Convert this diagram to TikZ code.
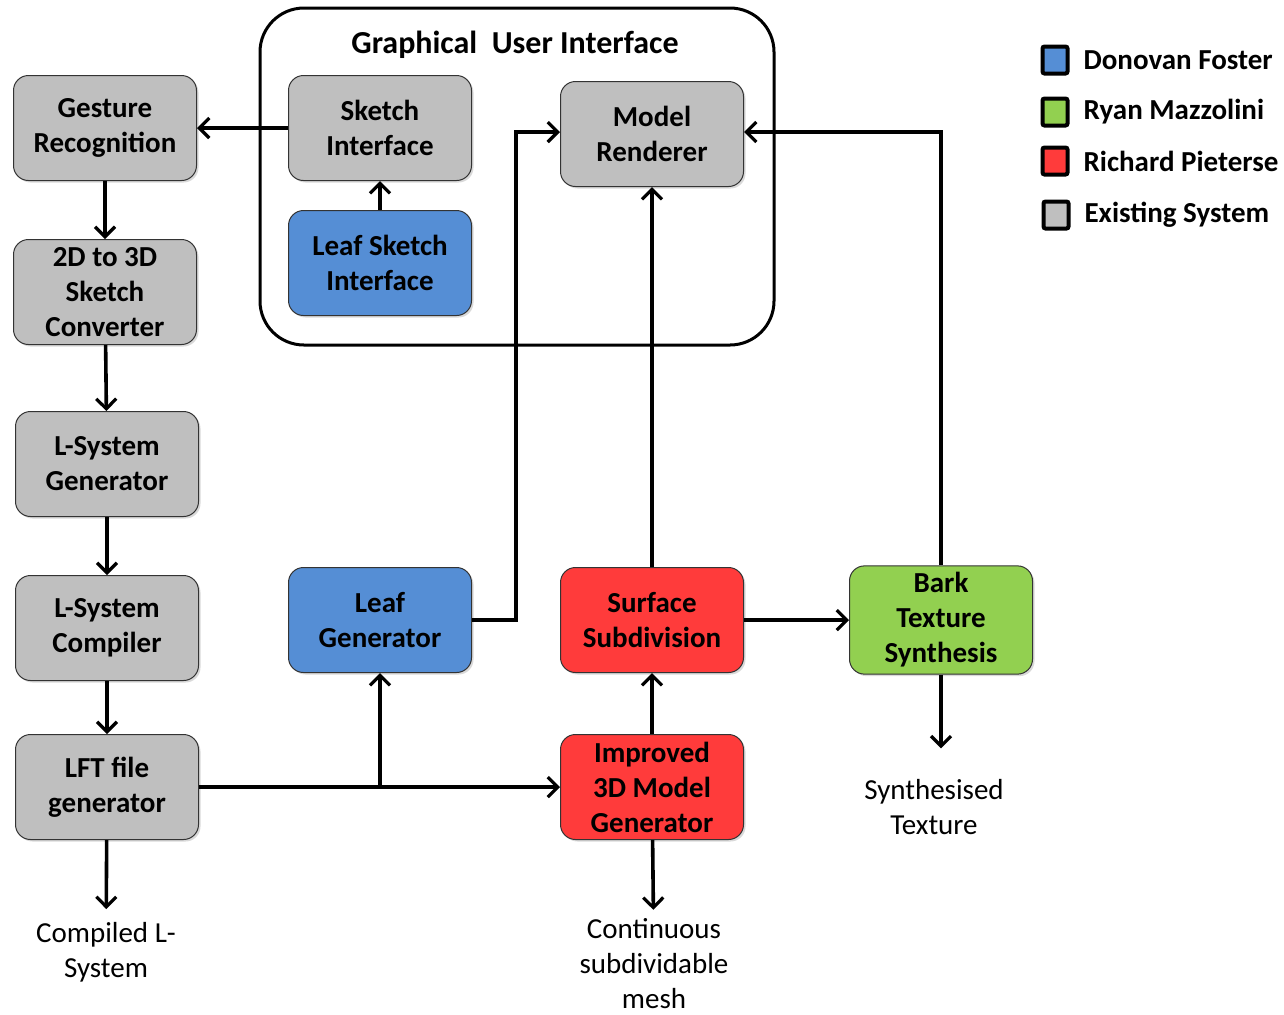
\documentclass[tikz,border=0pt]{standalone}
\usepackage{fontspec}
\setmainfont{Carlito}
\usepackage{xcolor}
\usepackage{tikz}
\usetikzlibrary{shapes.geometric, arrows, arrows.meta, shadows, positioning}
\definecolor{fosterblue}{HTML}{558ED5}
\definecolor{mazzgreen}{HTML}{92D050}
\definecolor{pietred}{HTML}{FF3B3B}
\definecolor{existgray}{HTML}{BFBFBF}
\tikzstyle{block} = [rectangle, rounded corners=7.5pt, minimum width=91.5pt, minimum height=52.5pt, text centered, align=center, draw=black!80, line width=0.5pt, font=\bfseries\fontsize{14.5}{17.5}\selectfont, drop shadow={shadow xshift=1pt, shadow yshift=-1pt, opacity=0.3}]
\tikzstyle{existing} = [block, fill=existgray]
\tikzstyle{foster} = [block, fill=fosterblue]
\tikzstyle{mazzolini} = [block, fill=mazzgreen]
\tikzstyle{pieterse} = [block, fill=pietred]
\tikzstyle{output} = [align=center, font=\fontsize{14.5}{17.5}\selectfont]
\tikzstyle{legbox} = [rectangle, rounded corners=1pt, minimum width=12.5pt, minimum height=13.5pt, draw=black, line width=2pt, inner sep=0pt]
\tikzstyle{legtext} = [font=\bfseries\fontsize{14.5}{17.5}\selectfont, right=3.5pt of #1]
\tikzstyle{arrow} = [line width=1.8pt,->,>={Straight Barb[length=5pt,width=10pt,line width=1.6pt]}]

\begin{document}
\begin{tikzpicture}[x=0.5pt, y=-0.5pt, node distance=82pt]
    \useasboundingbox (0,0) rectangle (1284,1014);
    % GUI frame
    \draw [line width=1.5pt, rounded corners=22pt] (260,8) rectangle (774,345);
    \node (gui) [font=\bfseries\fontsize{16}{19}\selectfont] at (515,45) {Graphical\ \ User\ Interface};
    % left column
    \node (gesture) [existing] at (105,128) {Gesture\\Recognition};
    \node (converter) [existing, below of=gesture] {2D to 3D\\Sketch\\Converter};
    \node (lsgen) [existing, below of=converter, yshift=-4pt, xshift=1pt] {L-System\\Generator};
    \node (lscomp) [existing, below of=lsgen] {L-System\\Compiler};
    \node (lft) [existing, below of=lscomp, yshift=2.5pt] {LFT file\\generator};
    % interface
    \node (sketch) [existing, right of=gesture, xshift=55.5pt] {Sketch\\Interface};
    \node (leafsketch) [foster, below of=sketch, yshift=14.5pt] {Leaf Sketch\\Interface};
    \node (renderer) [existing] at (652,134) {Model\\Renderer};
    % lower row
    \node (leafgen) [foster] at (380,620) {Leaf\\Generator};
    \node (surface) [pieterse, right of=leafgen, xshift=54pt] {Surface\\Subdivision};
    \node (bark) [mazzolini, right of=surface, xshift=62.5pt] {Bark\\Texture\\Synthesis};
    \node (improved) [pieterse, below of=surface, yshift=-1.5pt] {Improved\\3D Model\\Generator};
    % outputs
    \node (compiled) [output] at (106,952) {Compiled L-\\System};
    \node (mesh) [output] at (654,964) {Continuous\\subdividable\\mesh};
    \node (texture) [output] at (934,807) {Synthesised\\Texture};
    % legend
    \node (legfoster) [legbox, fill=fosterblue] at (1055,60) {};
    \node [legtext=legfoster] {Donovan Foster};
    \node (legmazz) [legbox, fill=mazzgreen] at (1055,112) {};
    \node [legtext=legmazz] {Ryan Mazzolini};
    \node (legpiet) [legbox, fill=pietred] at (1055,161) {};
    \node [legtext=legpiet] {Richard Pieterse};
    \node (legexist) [legbox, fill=existgray] at (1056,215) {};
    \node [legtext=legexist] {Existing System};
    % connectors
    \draw [arrow] (sketch) -- (gesture);
    \draw [arrow] (leafsketch) -- (sketch);
    \draw [arrow] (gesture) -- (converter);
    \draw [arrow] (converter) -- (lsgen);
    \draw [arrow] (lsgen) -- (lscomp);
    \draw [arrow] (lscomp) -- (lft);
    \draw [arrow] (lft) -- (improved);
    \draw [arrow] (leafgen |- lft) -- (leafgen);
    \draw [arrow] (leafgen.east) -- ++(22pt,0) |- ([yshift=1pt]renderer.west);
    \draw [arrow] (improved) -- (surface);
    \draw [arrow] (surface) -- (renderer);
    \draw [arrow] (surface) -- (bark);
    \draw [arrow] (bark.north) |- ([yshift=1pt]renderer.east);
    \draw [arrow, shorten >=3pt] (lft) -- (compiled);
    \draw [arrow, shorten >=1pt] (improved) -- (mesh);
    \draw [arrow, shorten >=12pt] (bark.south) -- ([xshift=3.5pt]texture.north);
\end{tikzpicture}
\end{document}
